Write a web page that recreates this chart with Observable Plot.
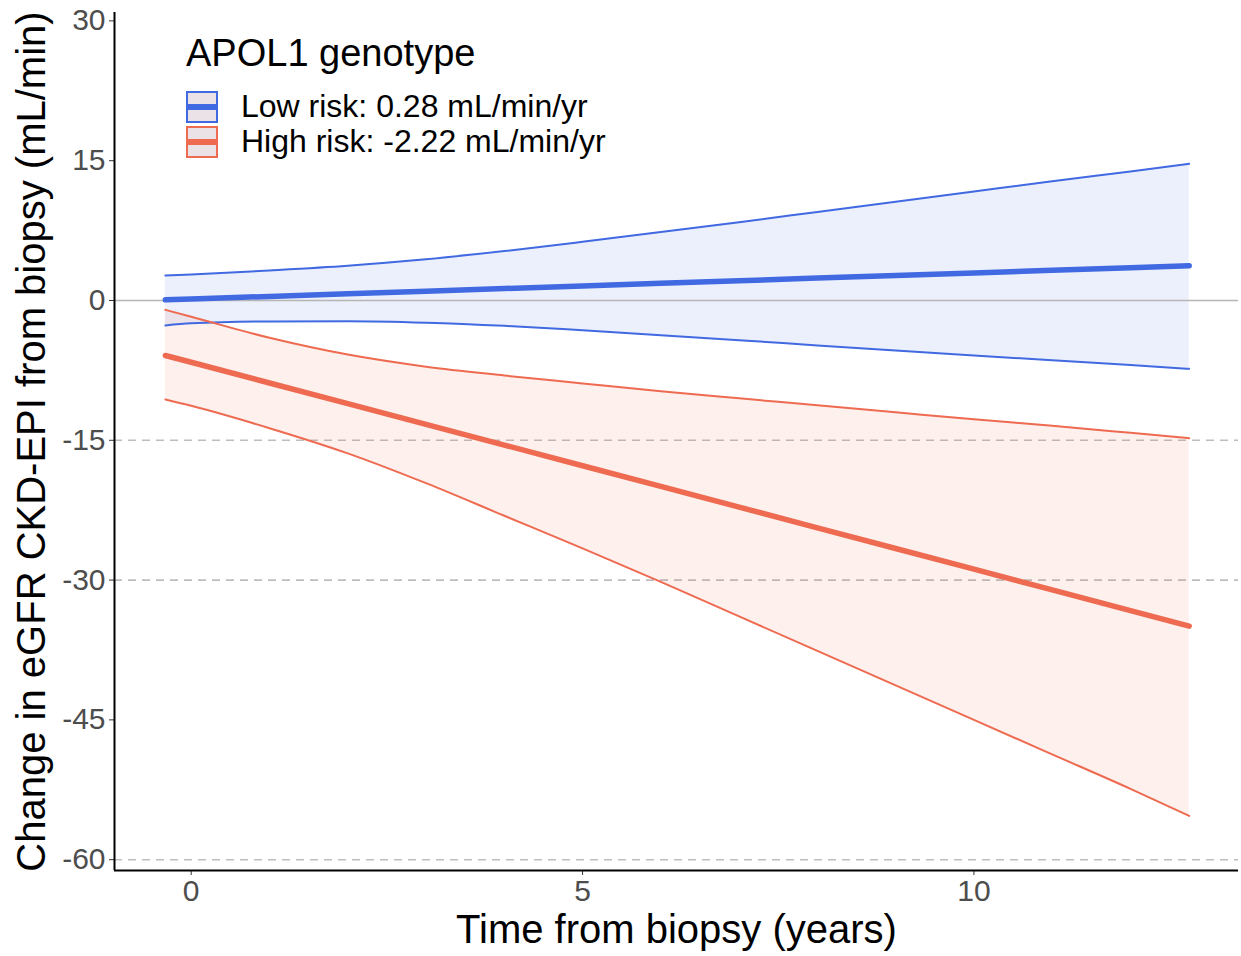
<!DOCTYPE html>
<html>
<head>
<meta charset="utf-8">
<script src="https://cdn.jsdelivr.net/npm/d3@7"></script>
<script src="https://cdn.jsdelivr.net/npm/@observablehq/plot@0.6"></script>
<style>
  html, body { margin: 0; padding: 0; background: #fff; }
  #wrap { position: relative; width: 1241px; height: 956px; font-family: "Liberation Sans", Arial, sans-serif; }
  #legend { position: absolute; left: 186px; top: 30px; color: #000; }
  #legend .title { font-size: 38px; line-height: 46px; margin-bottom: 13px; }
  #legend .item { display: flex; align-items: center; height: 35px; }
  #legend .key { width: 28px; height: 28px; border: 2px solid; background: #ebe2e8; position: relative; margin-right: 23px; }
  #legend .key span { position: absolute; left: 0; right: 0; top: 11px; height: 6px; }
  #legend .lab { font-size: 32px; }
</style>
</head>
<body>
<div id="wrap"></div>
<script>
// ---- data ----
const years    = [-0.33, 0, 1, 2, 3, 4, 5, 6, 7, 8, 9, 10, 11, 12, 12.75];
const lowFit   = [0.07, 0.16, 0.44, 0.72, 1.00, 1.28, 1.56, 1.84, 2.12, 2.40, 2.68, 2.96, 3.24, 3.52, 3.73];
const lowLo    = [-2.68, -2.45, -2.25, -2.22, -2.38, -2.72, -3.2, -3.72, -4.26, -4.82, -5.37, -5.9, -6.42, -6.93, -7.33];
const lowHi    = [2.68, 2.8, 3.22, 3.72, 4.42, 5.3, 6.3, 7.35, 8.4, 9.5, 10.6, 11.7, 12.8, 13.85, 14.66];
const highFit  = [-5.90, -6.63, -8.85, -11.07, -13.29, -15.51, -17.73, -19.95, -22.17, -24.39, -26.61, -28.83, -31.05, -33.27, -34.94];
const highLo   = [-10.62, -11.3, -13.7, -16.4, -19.6, -23.1, -26.6, -30.2, -33.9, -37.6, -41.3, -45.0, -48.7, -52.4, -55.3];
const highHi   = [-1.0, -1.75, -4.0, -5.8, -7.1, -8.05, -8.9, -9.75, -10.5, -11.25, -12.0, -12.75, -13.45, -14.2, -14.77];
const groups   = ["Low risk: 0.28 mL/min/yr", "High risk: -2.22 mL/min/yr"];
const colors   = ["#4169E1", "#EE6A50"];
const yTicks   = [30, 15, 0, -15, -30, -45, -60];
const xTicks   = [0, 5, 10];
const dashedRefs = [-15, -30, -60];
const zeroRef  = [0];
const xLabel   = "Time from biopsy (years)";
const yLabel   = "Change in eGFR CKD-EPI from biopsy (mL/min)";
const legendTitle = "APOL1 genotype";

// ---- build table ----
const rows = [];
years.forEach((t, i) => {
  rows.push({group: groups[0], t, fit: lowFit[i], lo: lowLo[i], hi: lowHi[i]});
  rows.push({group: groups[1], t, fit: highFit[i], lo: highLo[i], hi: highHi[i]});
});
const xDomain = [-0.98, 13.38];
const yDomain = [-61.16, 30.9];

const chart = Plot.plot({
  width: 1241,
  height: 956,
  marginLeft: 114,
  marginRight: 3,
  marginTop: 12,
  marginBottom: 86,
  style: {fontFamily: '"Liberation Sans", Arial, sans-serif', color: "#4d4d4d", background: "#fff"},
  x: {domain: xDomain},
  y: {domain: yDomain},
  color: {domain: groups, range: colors},
  marks: [
    Plot.ruleY(dashedRefs, {stroke: "#bdbdbd", strokeWidth: 1.6, strokeDasharray: "8,6"}),
    Plot.areaY(rows, {x: "t", y1: "lo", y2: "hi", fill: "group", fillOpacity: 0.1, z: "group", curve: "monotone-x"}),
    Plot.ruleY(zeroRef, {stroke: "#b5b5b5", strokeWidth: 1.6}),
    Plot.line(rows, {x: "t", y: "lo", stroke: "group", z: "group", strokeWidth: 2, curve: "monotone-x"}),
    Plot.line(rows, {x: "t", y: "hi", stroke: "group", z: "group", strokeWidth: 2, curve: "monotone-x"}),
    Plot.line(rows, {x: "t", y: "fit", stroke: "group", z: "group", strokeWidth: 5.5}),
    Plot.axisY({ticks: yTicks, tickSize: 5, tickPadding: 4, fontSize: 30, stroke: "#333", label: null, tickFormat: d => String(d)}),
    Plot.axisX({ticks: xTicks, tickSize: 5, tickPadding: 4, fontSize: 30, stroke: "#333", label: null}),
    Plot.ruleX([xDomain[0]], {stroke: "#000", strokeWidth: 2}),
    Plot.ruleY([yDomain[0]], {stroke: "#000", strokeWidth: 2}),
    Plot.text([xLabel], {frameAnchor: "bottom", dy: 60, fontSize: 40, fill: "#000", lineAnchor: "middle"}),
    Plot.text([yLabel], {frameAnchor: "left", dx: -82, rotate: -90, fontSize: 40, fill: "#000", lineAnchor: "middle", textAnchor: "middle"})
  ]
});

const wrap = document.getElementById("wrap");
wrap.appendChild(chart);

// ---- legend (HTML overlay) ----
const lg = document.createElement("div");
lg.id = "legend";
const tt = document.createElement("div");
tt.className = "title";
tt.textContent = legendTitle;
lg.appendChild(tt);
groups.forEach((g, i) => {
  const it = document.createElement("div");
  it.className = "item";
  const k = document.createElement("div");
  k.className = "key";
  k.style.borderColor = colors[i];
  const bar = document.createElement("span");
  bar.style.background = colors[i];
  k.appendChild(bar);
  const l = document.createElement("div");
  l.className = "lab";
  l.textContent = g;
  it.appendChild(k);
  it.appendChild(l);
  lg.appendChild(it);
});
wrap.appendChild(lg);
</script>
</body>
</html>
